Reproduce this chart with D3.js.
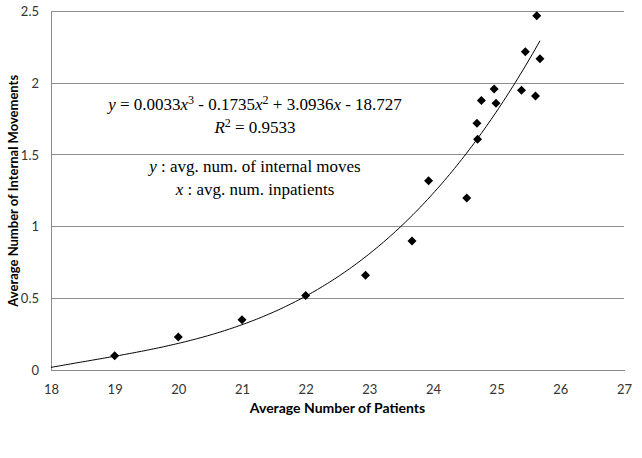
<!DOCTYPE html>
<html><head><meta charset="utf-8">
<script src="https://cdn.jsdelivr.net/npm/d3@7"></script>
<style>body{margin:0;background:#fff;}svg{display:block;}</style>
</head><body>
<svg id="chart" width="642" height="458"></svg>
<script>
// Data
const patients = [19, 20, 21, 22, 22.94, 23.67, 23.93, 24.53, 24.69, 24.70, 24.76, 24.96, 24.99, 25.39, 25.45, 25.61, 25.63, 25.68];
const moves    = [0.10, 0.23, 0.35, 0.52, 0.66, 0.90, 1.32, 1.20, 1.72, 1.61, 1.88, 1.96, 1.86, 1.95, 2.22, 1.91, 2.47, 2.17];
// Points read along the drawn polynomial trendline
const trendX = [18, 19, 20, 21, 21.6, 21.91, 22, 22.94, 23.43, 23.61, 24.11, 24.5, 24.7, 25.1, 25.3, 25.68];
const trendY = [0.016, 0.098, 0.19, 0.314, 0.425, 0.488, 0.518, 0.779, 0.976, 1.053, 1.29, 1.50, 1.61, 1.883, 2.0, 2.294];
const xTicks = [18, 19, 20, 21, 22, 23, 24, 25, 26, 27];
const yTicks = [0, 0.5, 1, 1.5, 2, 2.5];
const xDomain = [18, 27];
const yDomain = [0, 2.5];
const xTitle = "Average Number of Patients";
const yTitle = "Average Number of Internal Movements";
const eqLine = [["y", "i"], [" = 0.0033", ""], ["x", "i"], ["3", "sup"], [" - 0.1735", ""], ["x", "i"], ["2", "sup"], [" + 3.0936", ""], ["x", "i"], [" - 18.727", ""]];
const r2Line = [["R", "i"], ["2", "sup"], [" = 0.9533", ""]];
const noteY = [["y", "i"], [" : avg. num. of internal moves", ""]];
const noteX = [["x", "i"], [" : avg. num. inpatients", ""]];

const svg = d3.select("#chart");
const L = 51, R = 624, T = 11.5, B = 370;
const x = d3.scaleLinear().domain(xDomain).range([L, R]);
const y = d3.scaleLinear().domain(yDomain).range([B, T]);

// gridlines
svg.append("g").selectAll("line").data(yTicks.filter(d => d > 0)).join("line")
  .attr("x1", L).attr("x2", R).attr("y1", d => y(d)).attr("y2", d => y(d))
  .attr("stroke", "#8f8f8f").attr("stroke-width", 1).attr("shape-rendering", "crispEdges");

// axes
const xAxis = svg.append("g").attr("transform", `translate(0,${B})`)
  .call(d3.axisBottom(x).tickValues(xTicks).tickSize(0).tickPadding(15).tickFormat(d3.format("d")));
const yAxis = svg.append("g").attr("transform", `translate(${L},0)`)
  .call(d3.axisLeft(y).tickValues(yTicks).tickSize(0).tickPadding(12).tickFormat(d => String(d)));
[xAxis, yAxis].forEach(g => {
  g.select(".domain").attr("stroke", "#8a8a8a").attr("shape-rendering", "crispEdges");
  g.selectAll("text").attr("font-family", "Lato, 'Liberation Sans', sans-serif").attr("font-size", 13).attr("fill", "#333");
});

// trendline: smooth cubic least-squares through the points read on the drawn curve
function cubicFit(xs, ys) {
  const m = d3.mean(xs);
  const A = Array.from({length: 4}, () => new Array(5).fill(0));
  xs.forEach((xv, i) => {
    const t = xv - m;
    const p = [1, t, t * t, t * t * t];
    for (let r = 0; r < 4; r++) {
      for (let c = 0; c < 4; c++) A[r][c] += p[r] * p[c];
      A[r][4] += p[r] * ys[i];
    }
  });
  for (let i = 0; i < 4; i++) {
    let piv = i;
    for (let k = i + 1; k < 4; k++) if (Math.abs(A[k][i]) > Math.abs(A[piv][i])) piv = k;
    [A[i], A[piv]] = [A[piv], A[i]];
    for (let k = 0; k < 4; k++) if (k !== i) {
      const f = A[k][i] / A[i][i];
      for (let c = i; c < 5; c++) A[k][c] -= f * A[i][c];
    }
  }
  const co = A.map((row, i) => row[4] / row[i]);
  return xv => { const t = xv - m; return co[0] + co[1] * t + co[2] * t * t + co[3] * t * t * t; };
}
const f = cubicFit(trendX, trendY);
const x0 = d3.min(trendX), x1 = d3.max(trendX);
const curveX = d3.range(0, 201).map(i => x0 + (x1 - x0) * i / 200);
svg.append("path").datum(curveX)
  .attr("d", d3.line().x(d => x(d)).y(d => y(f(d))))
  .attr("fill", "none").attr("stroke", "#000").attr("stroke-width", 1);

// markers (diamonds)
const dm = 4.5;
svg.append("g").selectAll("path").data(patients.map((p, i) => [p, moves[i]])).join("path")
  .attr("d", d => { const cx = x(d[0]), cy = y(d[1]); return `M${cx},${cy - dm}L${cx + dm},${cy}L${cx},${cy + dm}L${cx - dm},${cy}Z`; })
  .attr("fill", "#000");

// axis titles
svg.append("text").attr("x", (L + R) / 2).attr("y", 413).attr("text-anchor", "middle")
  .attr("font-family", "Lato, 'Liberation Sans', sans-serif").attr("font-weight", "bold").attr("font-size", 14)
  .text(xTitle);
svg.append("text").attr("transform", `translate(18,${(T + B) / 2}) rotate(-90)`).attr("text-anchor", "middle")
  .attr("font-family", "Lato, 'Liberation Sans', sans-serif").attr("font-weight", "bold").attr("font-size", 13)
  .text(yTitle);

// equation / annotation text
function richText(parts, cx, by) {
  const t = svg.append("text").attr("x", cx).attr("y", by).attr("text-anchor", "middle")
    .attr("font-family", "'Liberation Serif', 'Times New Roman', serif").attr("font-size", 17).attr("fill", "#000");
  let prevSup = false;
  parts.forEach(([s, k]) => {
    const ts = t.append("tspan").text(s);
    if (k === "i") ts.attr("font-style", "italic");
    if (k === "sup") { ts.attr("font-size", 12).attr("dy", -6); prevSup = true; }
    else { ts.attr("dy", prevSup ? 6 : 0); prevSup = false; }
  });
}
richText(eqLine, 255, 110);
richText(r2Line, 255, 133);
richText(noteY, 255, 172);
richText(noteX, 255, 195);
</script>
</body></html>
